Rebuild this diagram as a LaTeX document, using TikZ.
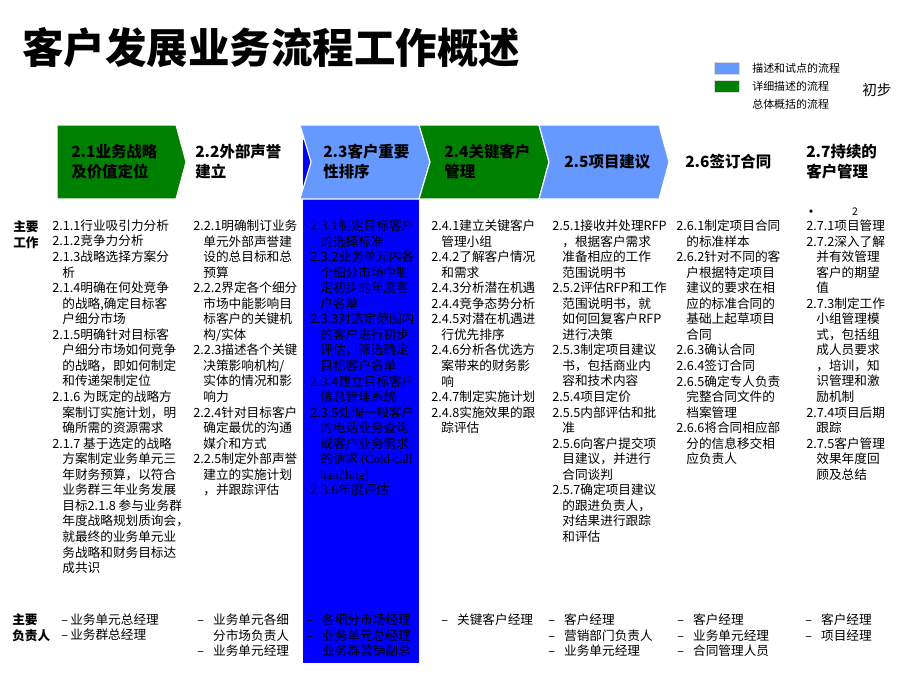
\documentclass[tikz,border=0pt]{standalone}
\usepackage{fontspec}
\setmainfont{Noto Sans CJK SC}
\newfontfamily\latinserif{Liberation Serif}
\usetikzlibrary{positioning}

\definecolor{stepgreen}{RGB}{0,128,0}
\definecolor{steplight}{RGB}{102,153,255}
\definecolor{stepdark}{RGB}{0,0,255}

\newcommand\cind{\hspace*{0.8em}}
\newcommand\respdash[1][11.3pt]{\makebox[#1][l]{–}}

\begin{document}
\begin{tikzpicture}[x=0.025cm,y=-0.025cm,
    body/.style={anchor=north west,inner sep=0pt,align=left,
                 font=\fontsize{9}{11.06}\selectfont},
    head/.style={anchor=west,inner sep=0pt,align=left,
                 font=\fontsize{11}{14.2}\selectfont\bfseries},
    side/.style={anchor=north west,inner sep=0pt,align=left,
                 font=\fontsize{9}{11.3}\selectfont\bfseries},
    key/.style={anchor=west,inner sep=0pt,font=\fontsize{7.8}{9}\selectfont},
    swatch/.style={draw=black!15,line width=0.4pt},
    chev/.style={draw=white,line width=0.8pt}]

  \useasboundingbox (0,0) rectangle (920,691);

  % title and legend
  \node[anchor=west,inner sep=0pt,font=\fontsize{29.5}{32}\selectfont\bfseries]
    (title) at (22,48) {客户发展业务流程工作概述};

  \filldraw[swatch,fill=steplight] (714,62) rectangle (739,74);
  \filldraw[swatch,fill=stepgreen] (714,80) rectangle (739,92);
  \node[key] (key1) at (752,68) {描述和试点的流程};
  \node[key] (key2) at (752,86) {详细描述的流程};
  \node[key] (key3) at (752,104) {总体概括的流程};
  \node[anchor=west,inner sep=0pt,font=\fontsize{10.4}{12}\selectfont]
    (draft) at (862,90) {初步};

  % column of 2.3
  \fill[stepdark] (303,140) rectangle (419,663);

  % process steps
  \filldraw[chev,fill=stepgreen] (57,125) -- (176,125) -- (186,162) -- (176,199) -- (57,199) -- cycle;
  \filldraw[chev,fill=steplight] (300,125) -- (419,125) -- (430,162) -- (419,199) -- (300,199) -- (311,162) -- cycle;
  \filldraw[chev,fill=stepgreen] (419,125) -- (539,125) -- (549,162) -- (539,199) -- (419,199) -- (430,162) -- cycle;
  \filldraw[chev,fill=steplight] (539,125) -- (659,125) -- (669,162) -- (659,199) -- (539,199) -- (549,162) -- cycle;

  \node[head] (s21) at (71,162) {2.1业务战略\\及价值定位};
  \node[head] (s22) at (195,162) {2.2外部声誉\\建立};
  \node[head] (s23) at (323,162) {2.3客户重要\\性排序};
  \node[head] (s24) at (444,162) {2.4关键客户\\管理};
  \node[head] (s25) at (564,162) {2.5项目建议};
  \node[head] (s26) at (685,162) {2.6签订合同};
  \node[head] (s27) at (806,162) {2.7持续的\\客户管理};

  % main work
  \node[side] (worklabel) at (13,220) {主要\\工作};

  \node[body] (work21) at (52,219.5) {2.1.1行业吸引力分析\\
    2.1.2竞争力分析\\
    2.1.3战略选择方案分\\
    \cind 析\\
    2.1.4明确在何处竞争\\
    \cind 的战略,确定目标客\\
    \cind 户细分市场\\
    2.1.5明确针对目标客\\
    \cind 户细分市场如何竞争\\
    \cind 的战略，即如何制定\\
    \cind 和传递架制定位\\
    2.1.6 为既定的战略方\\
    \cind 案制订实施计划，明\\
    \cind 确所需的资源需求\\
    2.1.7 基于选定的战略\\
    \cind 方案制定业务单元三\\
    \cind 年财务预算，以符合\\
    \cind 业务群三年业务发展\\
    \cind 目标2.1.8 参与业务群\\
    \cind 年度战略规划质询会，\\
    \cind 就最终的业务单元业\\
    \cind 务战略和财务目标达\\
    \cind 成共识};

  \node[body] (work22) at (193,219.5) {2.2.1明确制订业务\\
    \cind 单元外部声誉建\\
    \cind 设的总目标和总\\
    \cind 预算\\
    2.2.2界定各个细分\\
    \cind 市场中能影响目\\
    \cind 标客户的关键机\\
    \cind 构/实体\\
    2.2.3描述各个关键\\
    \cind 决策影响机构/\\
    \cind 实体的情况和影\\
    \cind 响力\\
    2.2.4针对目标客户\\
    \cind 确定最优的沟通\\
    \cind 媒介和方式\\
    2.2.5制定外部声誉\\
    \cind 建立的实施计划\\
    \cind ，并跟踪评估};

  \node[body] (work23) at (310,219.5) {2.3.1制定目标客户\\
    \cind 的选择标准\\
    2.3.2业务单元内各\\
    \cind 个细分市场中制\\
    \cind 定初步的年度客\\
    \cind 户名单\\
    2.3.3对选定范围内\\
    \cind 的客户进行初步\\
    \cind 评估，筛选确定\\
    \cind 目标客户名单\\
    2.3.4建立目标客户\\
    \cind 信息管理系统\\
    2.3.5处理一般客户\\
    \cind 的电话业务查询\\
    \cind 或客户业务需求\\
    \cind 的请求 {\latinserif (Cold-call}\\
    \cind {\latinserif handling)}\\
    2.3.6年度评估};

  \node[body] (work24) at (431,219.5) {2.4.1建立关键客户\\
    \cind 管理小组\\
    2.4.2了解客户情况\\
    \cind 和需求\\
    2.4.3分析潜在机遇\\
    2.4.4竞争态势分析\\
    2.4.5对潜在机遇进\\
    \cind 行优先排序\\
    2.4.6分析各优选方\\
    \cind 案带来的财务影\\
    \cind 响\\
    2.4.7制定实施计划\\
    2.4.8实施效果的跟\\
    \cind 踪评估};

  \node[body] (work25) at (552,219.5) {2.5.1接收并处理RFP\\
    \cind ，根据客户需求\\
    \cind 准备相应的工作\\
    \cind 范围说明书\\
    2.5.2评估RFP和工作\\
    \cind 范围说明书，就\\
    \cind 如何回复客户RFP\\
    \cind 进行决策\\
    2.5.3制定项目建议\\
    \cind 书，包括商业内\\
    \cind 容和技术内容\\
    2.5.4项目定价\\
    2.5.5内部评估和批\\
    \cind 准\\
    2.5.6向客户提交项\\
    \cind 目建议，并进行\\
    \cind 合同谈判\\
    2.5.7确定项目建议\\
    \cind 的跟进负责人，\\
    \cind 对结果进行跟踪\\
    \cind 和评估};

  \node[body] (work26) at (676,219.5) {2.6.1制定项目合同\\
    \cind 的标准样本\\
    2.6.2针对不同的客\\
    \cind 户根据特定项目\\
    \cind 建议的要求在相\\
    \cind 应的标准合同的\\
    \cind 基础上起草项目\\
    \cind 合同\\
    2.6.3确认合同\\
    2.6.4签订合同\\
    2.6.5确定专人负责\\
    \cind 完整合同文件的\\
    \cind 档案管理\\
    2.6.6将合同相应部\\
    \cind 分的信息移交相\\
    \cind 应负责人};

  \node[anchor=center,inner sep=0pt,font=\fontsize{11}{12}\selectfont] (dot27) at (811,214) {•};
  \node[anchor=center,inner sep=0pt,font=\fontsize{7.5}{8}\selectfont\itshape] (two27) at (855,212) {2};
  \node[body] (work27) at (806,219.5) {2.7.1项目管理\\
    2.7.2深入了解\\
    \cind 并有效管理\\
    \cind 客户的期望\\
    \cind 值\\
    2.7.3制定工作\\
    \cind 小组管理模\\
    \cind 式，包括组\\
    \cind 成人员要求\\
    \cind ，培训，知\\
    \cind 识管理和激\\
    \cind 励机制\\
    2.7.4项目后期\\
    \cind 跟踪\\
    2.7.5客户管理\\
    \cind 效果年度回\\
    \cind 顾及总结};

  % owners
  \node[side] (ownlabel) at (12,613) {主要\\负责人};
  \node[body] (own21) at (61,613.5) {\respdash[6.4pt]业务单元总经理\\\respdash[6.4pt]业务群总经理};
  \node[body] (own22) at (197,613.5) {\respdash 业务单元各细\\\hspace*{11.3pt}分市场负责人\\\respdash 业务单元经理};
  \node[body] (own23) at (306,613.5) {\respdash 各细分市场经理\\\respdash 业务单元总经理\\\respdash 业务群营销副总};
  \node[body] (own24) at (441,613.5) {\respdash 关键客户经理};
  \node[body] (own25) at (548,613.5) {\respdash 客户经理\\\respdash 营销部门负责人\\\respdash 业务单元经理};
  \node[body] (own26) at (677,613.5) {\respdash 客户经理\\\respdash 业务单元经理\\\respdash 合同管理人员};
  \node[body] (own27) at (805,613.5) {\respdash 客户经理\\\respdash 项目经理};

\end{tikzpicture}
\end{document}
